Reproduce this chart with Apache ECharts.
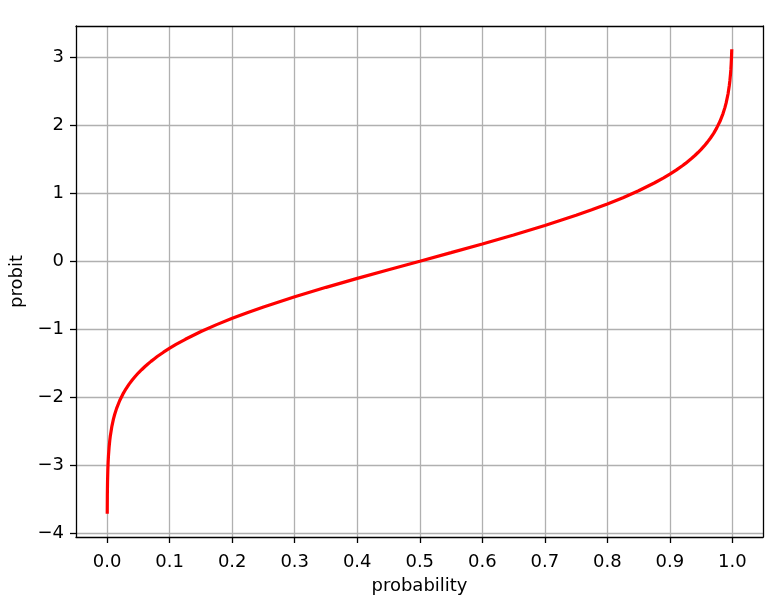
<!DOCTYPE html>
<html>
<head>
<meta charset="utf-8">
<script src="https://cdn.jsdelivr.net/npm/echarts@6/dist/echarts.min.js"></script>
<style>html,body{margin:0;padding:0;background:#fff;}#c{width:778px;height:600px;}</style>
</head>
<body>
<div id="c"></div>
<script>
const probability = [0.0001,0.0003,0.0006,0.0011,0.0016,0.0021,0.0031,0.0041,0.0051,0.0076,0.0101,0.0121,0.0151,0.0201,0.0251,0.0301,0.0351,0.0401,0.0451,0.0501,0.0551,0.0601,0.0651,0.0701,0.0751,0.0801,0.0901,0.1001,0.1101,0.1251,0.1501,0.1751,0.2001,0.2251,0.2501,0.3001,0.3501,0.4001,0.4501,0.5001,0.5501,0.6001,0.6501,0.7001,0.7501,0.7751,0.8001,0.8251,0.8501,0.8751,0.8901,0.9001,0.9101,0.9201,0.9251,0.9351,0.9401,0.9451,0.9501,0.9551,0.9601,0.9651,0.9701,0.9751,0.9801,0.9851,0.9881,0.9901,0.9931,0.9951,0.9961,0.9971,0.9976,0.9981,0.9986,0.9991];
const probit = [-3.719,-3.432,-3.239,-3.062,-2.948,-2.863,-2.737,-2.645,-2.569,-2.428,-2.323,-2.254,-2.167,-2.051,-1.958,-1.879,-1.810,-1.749,-1.694,-1.643,-1.598,-1.554,-1.513,-1.475,-1.439,-1.404,-1.340,-1.281,-1.226,-1.150,-1.036,-0.934,-0.841,-0.755,-0.674,-0.524,-0.385,-0.253,-0.125,0.000,0.126,0.254,0.386,0.525,0.675,0.756,0.842,0.935,1.037,1.151,1.227,1.282,1.341,1.406,1.440,1.515,1.556,1.600,1.646,1.697,1.753,1.814,1.882,1.963,2.056,2.174,2.261,2.331,2.462,2.583,2.661,2.759,2.820,2.894,2.989,3.121];
const xTicks = [0,0.1,0.2,0.3,0.4,0.5,0.6,0.7,0.8,0.9,1.0];
const yTicks = [-4,-3,-2,-1,0,1,2,3];
const xMin = -0.04985, xMax = 1.04905;
const yMin = -4.061, yMax = 3.463;

const font = 'DejaVu Sans';
const chart = echarts.init(document.getElementById('c'), null, {renderer:'canvas'});
chart.setOption({
  animation:false,
  backgroundColor:'#fff',
  grid:{left:76, right:15, top:26, bottom:63, containLabel:false},
  xAxis:[{
    type:'value', min:xMin, max:xMax, position:'bottom',
    name:'probability', nameLocation:'middle', nameGap:40,
    nameTextStyle:{fontFamily:font, fontSize:18, color:'#000'},
    axisLine:{show:true, onZero:false, lineStyle:{color:'#000', width:1.3}},
    axisTick:{show:true, length:6, lineStyle:{color:'#000', width:1.3}, customValues:xTicks},
    axisLabel:{fontFamily:font, fontSize:18, color:'#000', margin:16, customValues:xTicks,
      formatter:v=>v.toFixed(1)},
    splitLine:{show:true, lineStyle:{color:'#b0b0b0', width:1.3}}
  },{
    type:'value', min:xMin, max:xMax, position:'top',
    axisLine:{show:true, onZero:false, lineStyle:{color:'#000', width:1.3}},
    axisTick:{show:false}, axisLabel:{show:false}, splitLine:{show:false}
  }],
  yAxis:[{
    type:'value', min:yMin, max:yMax, position:'left',
    name:'probit', nameLocation:'middle', nameGap:50, nameRotate:90,
    nameTextStyle:{fontFamily:font, fontSize:18, color:'#000'},
    axisLine:{show:true, onZero:false, lineStyle:{color:'#000', width:1.3}},
    axisTick:{show:true, length:6, lineStyle:{color:'#000', width:1.3}, customValues:yTicks},
    axisLabel:{fontFamily:font, fontSize:18, color:'#000', margin:12, customValues:yTicks,
      formatter:v=>String(Math.round(v)).replace('-', '\u2212')},
    splitLine:{show:true, lineStyle:{color:'#b0b0b0', width:1.3}}
  },{
    type:'value', min:yMin, max:yMax, position:'right',
    axisLine:{show:true, onZero:false, lineStyle:{color:'#000', width:1.3}},
    axisTick:{show:false}, axisLabel:{show:false}, splitLine:{show:false}
  }],
  series:[{
    type:'line', xAxisIndex:0, yAxisIndex:0,
    data: probability.map((p,i)=>[p, probit[i]]),
    showSymbol:false, symbol:'none', smooth:false,
    lineStyle:{color:'#ff0000', width:3.2}, z:5
  }]
});
</script>
</body>
</html>
